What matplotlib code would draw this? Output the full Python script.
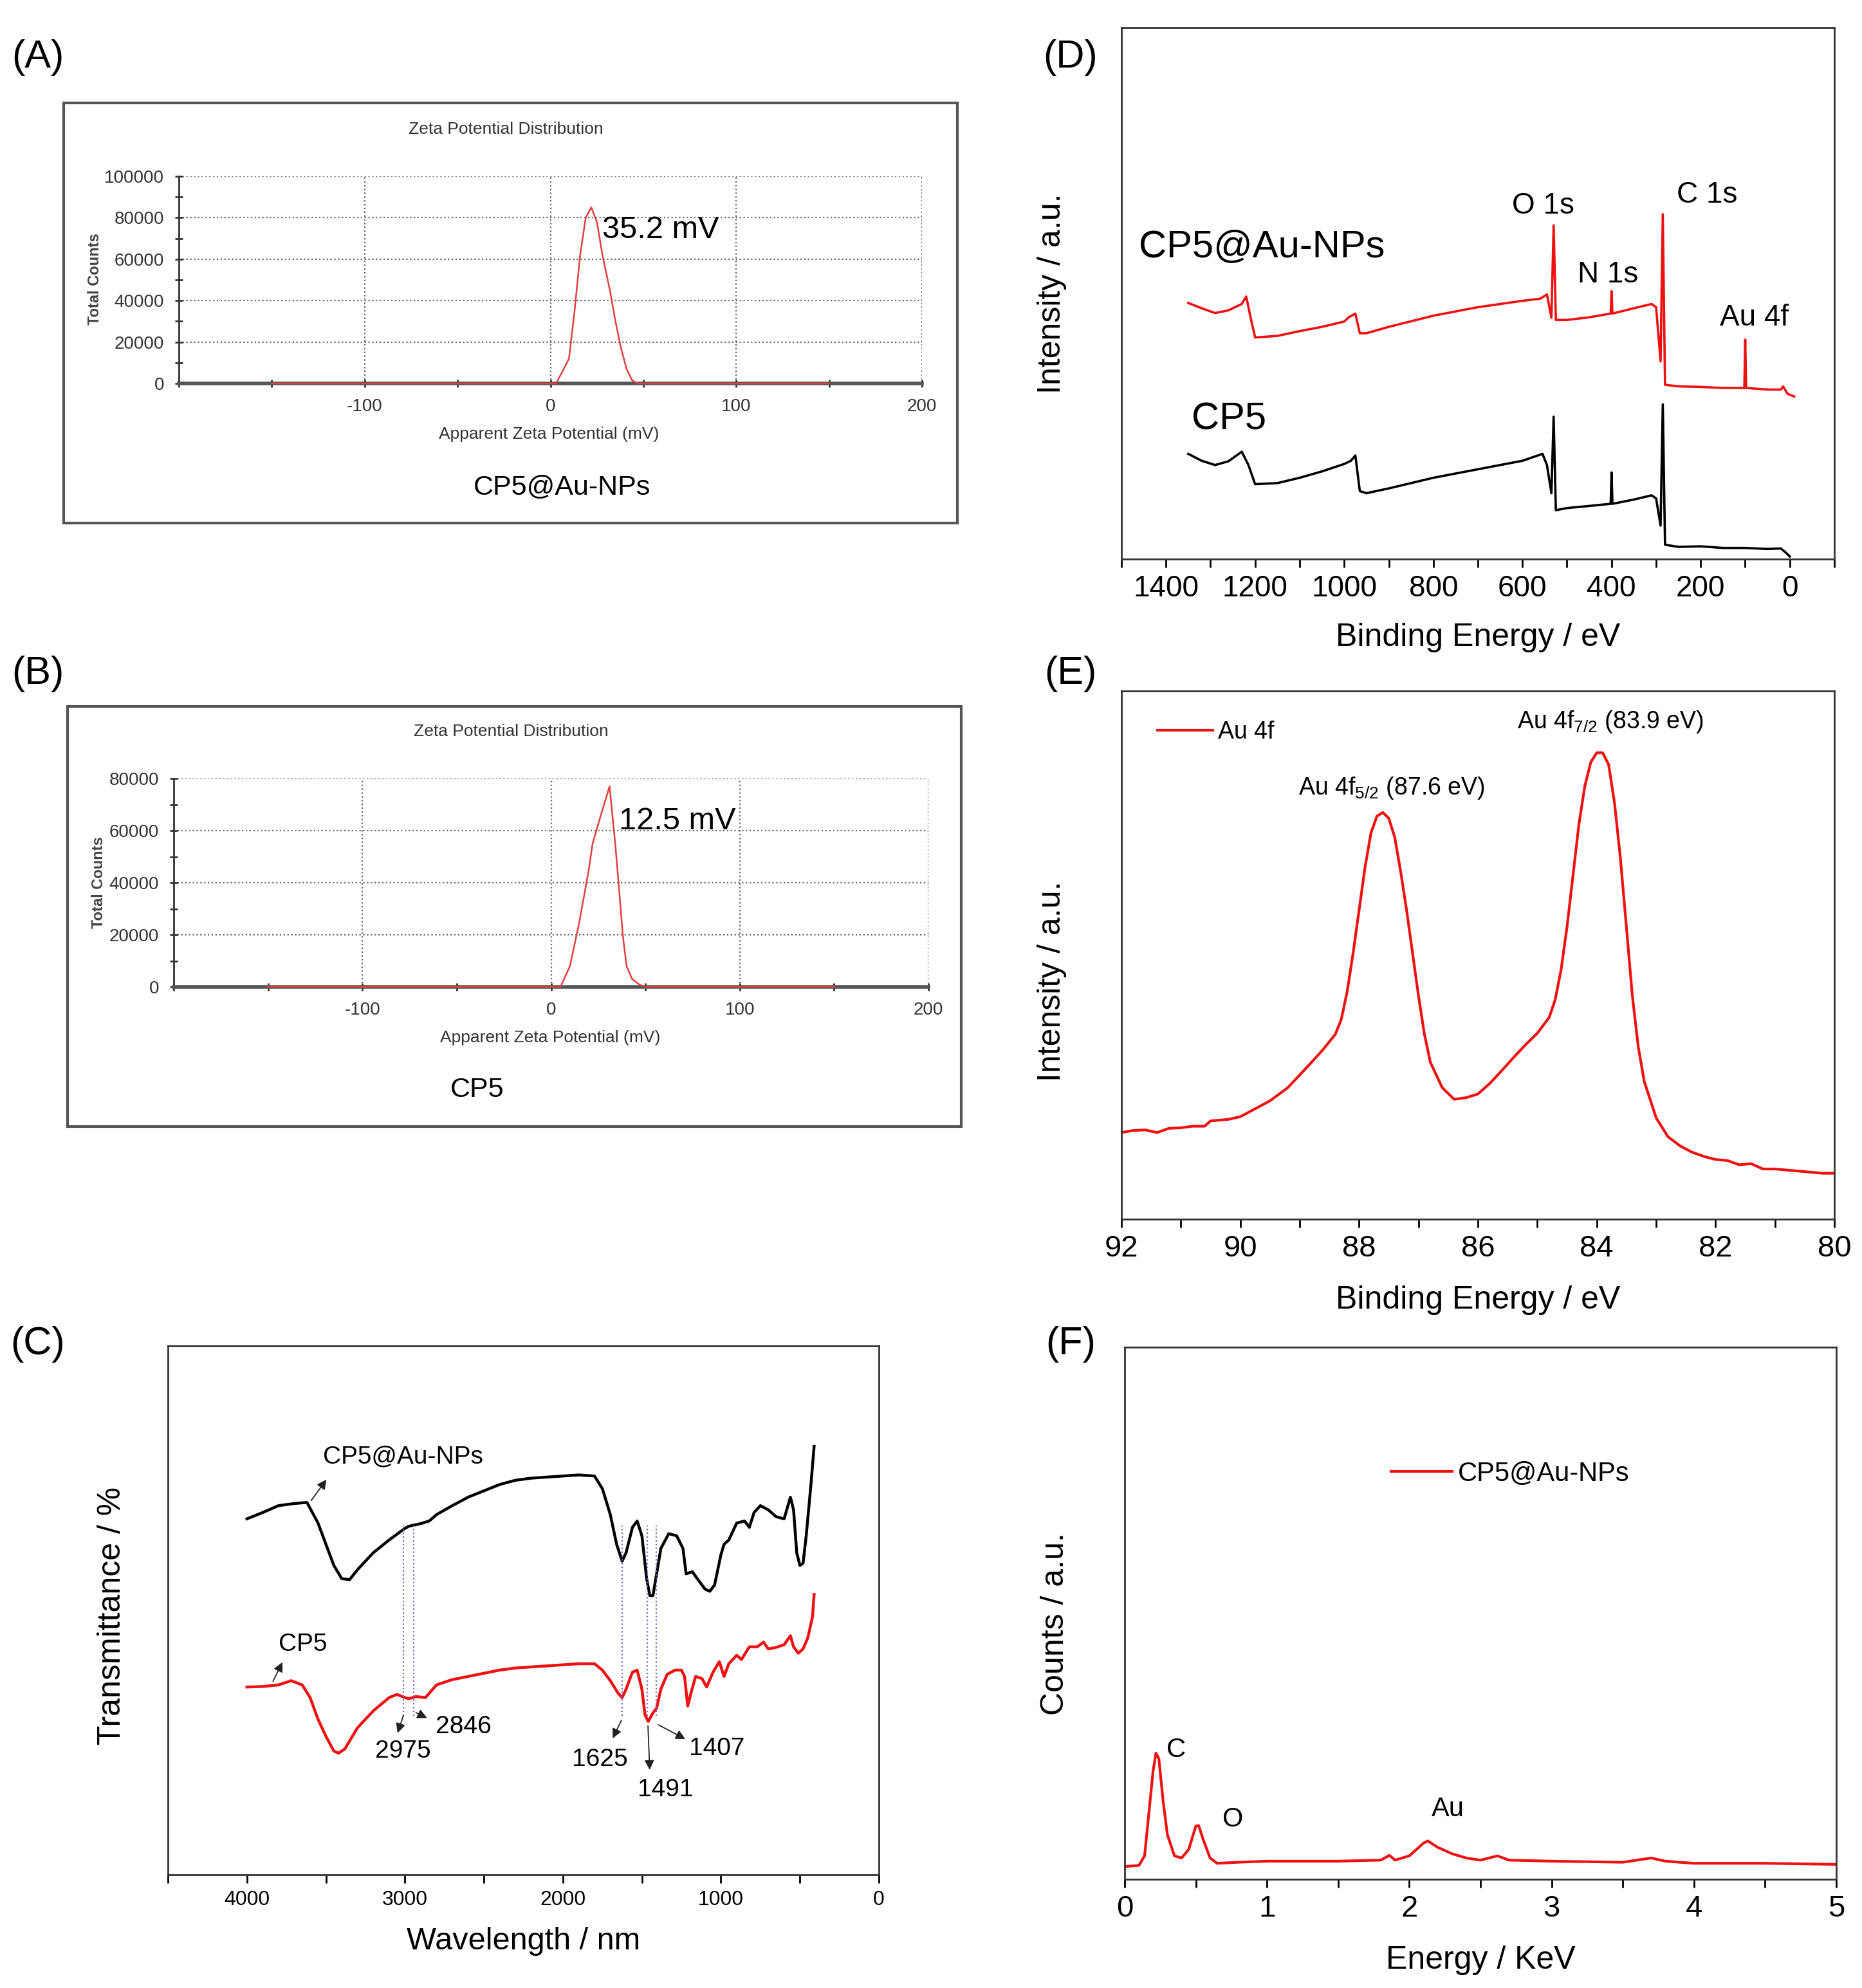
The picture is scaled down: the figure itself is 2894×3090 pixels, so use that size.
import numpy as np
import matplotlib
matplotlib.use("Agg")
import matplotlib.pyplot as plt
from matplotlib.patches import Rectangle
from matplotlib.ticker import MultipleLocator

plt.rcParams['font.family'] = ['Liberation Sans', 'DejaVu Sans']
plt.rcParams['mathtext.default'] = 'regular'
plt.rcParams['axes.unicode_minus'] = False

W, H = 2894, 3090

# ---------------- data ----------------
# (A) zeta potential, CP5@Au-NPs
zetaA_mv = [-150, 0, 3, 6, 10, 13, 16, 19, 22, 25, 28, 32, 35, 38, 41, 44, 47, 150]
zetaA_counts = [0, 0, 0, 5000, 12000, 35000, 62000, 80000, 85000, 78000, 62000,
                45000, 30000, 17000, 7000, 1500, 0, 0]
# (B) zeta potential, CP5
zetaB_mv = [-150, 0, 5, 10, 15, 20, 22, 26, 31, 34, 36, 38, 40, 43, 47, 50, 150]
zetaB_counts = [0, 0, 0, 8000, 25000, 45000, 55000, 65000, 77000, 55000, 38000,
                20000, 8000, 3000, 800, 0, 0]

# (C) FTIR
ir_wn = [4000, 3900, 3800, 3700, 3620, 3550, 3500, 3450, 3400, 3350, 3300, 3200,
         3100, 3000, 2975, 2900, 2846, 2800, 2700, 2600, 2500, 2400, 2300, 2200,
         2100, 2000, 1900, 1800, 1750, 1700, 1660, 1625, 1600, 1560, 1530, 1500,
         1470, 1450, 1430, 1407, 1380, 1330, 1280, 1240, 1220, 1180, 1150, 1100,
         1070, 1040, 1000, 980, 950, 900, 850, 820, 790, 750, 700, 650, 600, 560,
         540, 520, 500, 480, 460, 430, 410]
ir_np = [67.3, 68.5, 69.8, 70.2, 70.4, 66.5, 62.5, 58.5, 56.0, 55.8, 57.7, 60.9,
         63.3, 65.5, 65.9, 66.4, 66.9, 68.1, 69.8, 71.4, 72.6, 73.8, 74.6, 75.0,
         75.2, 75.4, 75.6, 75.4, 73.0, 68.1, 62.5, 59.3, 60.9, 65.7, 66.9, 64.1,
         56.0, 52.8, 52.8, 56.9, 61.7, 64.5, 64.1, 61.7, 56.9, 57.3, 56.0, 54.0,
         53.6, 54.8, 60.5, 62.5, 63.3, 66.5, 66.9, 65.7, 68.5, 69.8, 69.0, 67.7,
         67.3, 71.4, 69.0, 60.9, 58.5, 58.9, 64.1, 73.8, 81.0]
ir_cp5_wn = [4000, 3900, 3800, 3720, 3650, 3600, 3550, 3500, 3450, 3420, 3380, 3300,
             3200, 3100, 3050, 3000, 2975, 2930, 2870, 2800, 2700, 2600, 2500, 2400,
             2300, 2200, 2100, 2000, 1900, 1800, 1750, 1700, 1650, 1625, 1600, 1560,
             1530, 1500, 1480, 1460, 1430, 1407, 1380, 1340, 1290, 1250, 1230, 1210,
             1190, 1160, 1120, 1090, 1050, 1010, 980, 950, 900, 870, 820, 770, 730,
             700, 650, 600, 560, 540, 510, 480, 450, 420, 410]
ir_cp5 = [35.5, 35.6, 35.9, 36.7, 35.9, 33.5, 29.4, 26.2, 23.4, 23.0, 23.8, 27.8,
          31.0, 33.5, 34.1, 33.5, 33.3, 33.7, 33.5, 35.9, 36.9, 37.5, 38.1, 38.7,
          39.1, 39.3, 39.5, 39.7, 39.9, 39.9, 38.7, 36.7, 34.3, 33.5, 35.1, 38.3,
          38.7, 35.1, 30.2, 29.0, 30.6, 31.5, 35.1, 37.9, 38.7, 38.7, 37.5, 31.9,
          34.3, 37.5, 37.1, 35.5, 38.3, 40.3, 37.5, 39.9, 41.5, 40.7, 43.1, 43.1,
          44.0, 42.7, 43.0, 43.5, 45.2, 43.1, 41.9, 42.7, 44.8, 48.8, 53.0]
ir_marks = [3010, 2945, 1625, 1465, 1408]

# (D) XPS survey
xps_be = [1350, 1320, 1290, 1260, 1230, 1220, 1210, 1200, 1150, 1100, 1050, 1000,
          990, 975, 965, 950, 900, 800, 700, 600, 560, 545, 535, 530, 525, 500, 450,
          402, 400, 398, 350, 310, 300, 290, 285, 280, 250, 200, 150, 102, 100, 98,
          50, 20, 15, 5, -10]
xps_np = [48.2, 47.2, 46.3, 46.8, 48.0, 49.4, 45.4, 41.7, 42.0, 42.9, 43.7, 44.7,
          45.5, 46.2, 42.5, 42.5, 43.7, 45.8, 47.4, 48.6, 49.0, 49.8, 45.4, 62.8,
          45.0, 45.0, 45.5, 46.2, 50.4, 46.2, 47.2, 48.0, 47.4, 37.2, 64.9, 32.8,
          32.5, 32.4, 32.2, 32.2, 41.3, 32.2, 31.9, 31.9, 32.5, 31.1, 30.6]
xps_cp5_be = [1350, 1320, 1290, 1260, 1230, 1215, 1200, 1150, 1100, 1050, 1000, 985,
              975, 965, 950, 900, 800, 700, 600, 555, 545, 535, 530, 525, 500, 450,
              402, 400, 398, 350, 310, 300, 290, 285, 280, 250, 200, 150, 100, 50,
              20, 10, 0]
xps_cp5 = [19.8, 18.5, 17.7, 18.4, 20.2, 17.7, 14.1, 14.3, 15.3, 16.5, 17.9, 18.5,
           19.5, 12.8, 12.4, 13.3, 15.3, 16.9, 18.5, 19.8, 17.7, 12.4, 26.8, 9.2,
           9.6, 10.0, 10.4, 16.3, 10.4, 11.2, 12.0, 11.4, 6.3, 29.1, 2.7, 2.3, 2.4,
           2.1, 2.1, 1.9, 2.0, 1.3, 0.5]

# (E) Au 4f
au_be = [92.0, 91.8, 91.6, 91.4, 91.2, 91.0, 90.8, 90.6, 90.5, 90.2, 90.0, 89.8, 89.5,
         89.2, 89.0, 88.8, 88.6, 88.4, 88.3, 88.2, 88.1, 88.0, 87.9, 87.8, 87.7, 87.6,
         87.5, 87.4, 87.3, 87.2, 87.1, 87.0, 86.9, 86.8, 86.6, 86.4, 86.2, 86.0, 85.8,
         85.6, 85.4, 85.2, 85.0, 84.8, 84.7, 84.6, 84.5, 84.4, 84.3, 84.2, 84.1, 84.0,
         83.9, 83.8, 83.7, 83.6, 83.5, 83.4, 83.3, 83.2, 83.0, 82.8, 82.6, 82.4, 82.2,
         82.0, 81.8, 81.6, 81.4, 81.2, 81.0, 80.6, 80.2, 80.0]
au_int = [16.4, 16.8, 16.9, 16.4, 17.2, 17.3, 17.6, 17.6, 18.6, 18.9, 19.4, 20.6, 22.4,
          24.9, 27.3, 29.7, 32.2, 35.0, 37.8, 43.1, 50.4, 58.5, 66.6, 73.1, 76.3, 77.0,
          75.9, 72.3, 65.8, 58.5, 50.4, 42.3, 35.0, 29.7, 24.9, 22.7, 23.0, 23.7, 25.7,
          28.1, 30.6, 33.0, 35.2, 38.2, 41.5, 47.2, 55.3, 65.0, 74.7, 82.0, 86.5, 88.3,
          88.3, 86.1, 78.8, 68.2, 55.3, 42.3, 32.6, 26.1, 19.2, 15.6, 13.9, 12.7, 11.9,
          11.3, 11.1, 10.3, 10.5, 9.5, 9.5, 9.1, 8.7, 8.7]

# (F) EDS
eds_kev = [0.00, 0.10, 0.14, 0.17, 0.20, 0.22, 0.24, 0.27, 0.30, 0.35, 0.40, 0.45,
           0.50, 0.52, 0.55, 0.60, 0.65, 0.80, 1.00, 1.50, 1.80, 1.86, 1.90, 2.00,
           2.10, 2.13, 2.20, 2.30, 2.40, 2.50, 2.62, 2.70, 3.00, 3.50, 3.70, 3.80,
           4.00, 4.50, 5.00]
eds_counts = [2.4, 2.6, 4.4, 12.4, 20.4, 23.7, 22.7, 14.8, 8.4, 4.4, 4.0, 5.6, 10.0,
              10.1, 7.6, 4.0, 3.0, 3.2, 3.4, 3.4, 3.6, 4.5, 3.6, 4.4, 6.8, 7.2, 6.0,
              4.8, 4.0, 3.6, 4.4, 3.6, 3.4, 3.2, 4.0, 3.4, 3.0, 3.0, 2.8]


fig = plt.figure(figsize=(W / 100, H / 100), dpi=100)


def px_axes(l, t, r, b):
    return fig.add_axes([l / W, 1 - b / H, (r - l) / W, (b - t) / H])


def fig_text(x, y, s, **kw):
    fig.text(x / W, 1 - y / H, s, **kw)


def frame_box(l, t, r, b):
    fig.add_artist(Rectangle((l / W, 1 - b / H), (r - l) / W, (b - t) / H,
                             transform=fig.transFigure, fill=False,
                             ec='#555555', lw=3))


narrow = ['Liberation Sans Narrow', 'Liberation Sans']


def zeta_panel(ax, xs, ys, ymax):
    ax.plot(xs, ys, color='#e04040', lw=1.8, clip_on=False, zorder=3)
    ax.set_xlim(-200, 200)
    ax.set_ylim(0, ymax)
    ax.set_xticks([-100, 0, 100, 200])
    ax.xaxis.set_minor_locator(MultipleLocator(50))
    ax.yaxis.set_major_locator(MultipleLocator(20000))
    ax.yaxis.set_minor_locator(MultipleLocator(10000))
    ax.grid(True, which='major', ls=':', color='#666666', lw=1.6)
    for s in ['top', 'right']:
        ax.spines[s].set_visible(False)
    ax.spines['bottom'].set_color('#555555')
    ax.spines['bottom'].set_linewidth(4)
    ax.spines['left'].set_color('#333333')
    ax.spines['left'].set_linewidth(2)
    ax.tick_params(which='both', direction='inout', length=9, width=2,
                   colors='#333333', labelsize=20, pad=12)
    for lab in ax.get_xticklabels() + ax.get_yticklabels():
        lab.set_family(narrow)


# ---------------- (A) ----------------
frame_box(99, 160, 1488, 813)
axA = px_axes(278, 274, 1433, 596)
zeta_panel(axA, zetaA_mv, zetaA_counts, 100000)
axA.text(28, 74000, '35.2 mV', fontsize=35, va='center', ha='left', family=narrow)
fig_text(786, 201, 'Zeta Potential Distribution', fontsize=19, ha='center',
         va='center', color='#333333', family=narrow)
fig_text(853, 675, 'Apparent Zeta Potential (mV)', fontsize=19, ha='center',
         va='center', color='#333333', family=narrow)
fig_text(873, 758, 'CP5@Au-NPs', fontsize=31, ha='center', va='center')
fig_text(148, 434, 'Total Counts', fontsize=17, ha='center', va='center',
         rotation=90, color='#444444', weight='bold')

# ---------------- (B) ----------------
frame_box(105, 1098, 1494, 1751)
axB = px_axes(270, 1210, 1443, 1534)
zeta_panel(axB, zetaB_mv, zetaB_counts, 80000)
axB.text(36, 63500, '12.5 mV', fontsize=35, va='center', ha='left', family=narrow)
fig_text(794, 1137, 'Zeta Potential Distribution', fontsize=19, ha='center',
         va='center', color='#333333', family=narrow)
fig_text(855, 1613, 'Apparent Zeta Potential (mV)', fontsize=19, ha='center',
         va='center', color='#333333', family=narrow)
fig_text(742, 1694, 'CP5', fontsize=31, ha='center', va='center')
fig_text(154, 1372, 'Total Counts', fontsize=17, ha='center', va='center',
         rotation=90, color='#444444', weight='bold')


def spectrum_axes(ax, labelsize):
    for s in ax.spines.values():
        s.set_color('#333333')
        s.set_linewidth(2)
    ax.set_yticks([])
    ax.tick_params(which='both', direction='out', length=9, width=2,
                   labelsize=labelsize, pad=8)


# ---------------- (C) FTIR ----------------
axC = px_axes(261, 2092, 1366, 2914)
axC.plot(ir_wn, ir_np, color='black', lw=3.2)
axC.plot(ir_cp5_wn, ir_cp5, color='#ee1111', lw=3.2)
for xm in ir_marks:
    axC.plot([xm, xm], [30, 66], ls=':', color='#6a6acd', lw=1.6)
axC.set_xlim(4500, 0)
axC.set_ylim(0, 100)
axC.xaxis.set_major_locator(MultipleLocator(1000))
axC.xaxis.set_minor_locator(MultipleLocator(500))
spectrum_axes(axC, 23)
axC.set_xlabel('Wavelength / nm', fontsize=35)
axC.xaxis.set_label_coords(0.5, -0.098)
axC.set_ylabel('Transmittance / %', fontsize=36)
axC.yaxis.set_label_coords(-0.058, 0.49)

arrow = dict(arrowstyle='-|>', color='#222222', lw=1.3, mutation_scale=22)
axC.text(3520, 79, 'CP5@Au-NPs', fontsize=28, va='center', ha='left')
axC.annotate('', xy=(3490, 75), xytext=(3600, 70.5), arrowprops=arrow)
axC.text(3800, 43.5, 'CP5', fontsize=28, va='center', ha='left')
axC.annotate('', xy=(3770, 40.5), xytext=(3840, 36.3), arrowprops=arrow)
axC.text(3011, 23.4, '2975', fontsize=28, va='center', ha='center')
axC.annotate('', xy=(3050, 26.5), xytext=(3005, 30.5), arrowprops=arrow)
axC.text(2804, 28, '2846', fontsize=28, va='center', ha='left')
axC.annotate('', xy=(2850, 29.5), xytext=(2940, 30.8), arrowprops=arrow)
axC.text(1766, 21.8, '1625', fontsize=28, va='center', ha='center')
axC.annotate('', xy=(1690, 25.5), xytext=(1625, 29.5), arrowprops=arrow)
axC.text(1351, 16.1, '1491', fontsize=28, va='center', ha='center')
axC.annotate('', xy=(1450, 19.5), xytext=(1462, 28.5), arrowprops=arrow)
axC.text(1200, 23.8, '1407', fontsize=28, va='center', ha='left')
axC.annotate('', xy=(1215, 25.5), xytext=(1405, 28.5), arrowprops=arrow)

# ---------------- (D) XPS survey ----------------
axD = px_axes(1743, 43, 2851, 869)
axD.plot(xps_be, xps_np, color='#ee1111', lw=2.6)
axD.plot(xps_cp5_be, xps_cp5, color='black', lw=2.6)
axD.set_xlim(1500, -100)
axD.set_ylim(0, 100)
axD.xaxis.set_minor_locator(MultipleLocator(100))
axD.set_xticks([1400, 1200, 1000, 800, 600, 400, 200, 0])
spectrum_axes(axD, 33)
axD.set_xlabel('Binding Energy / eV', fontsize=36)
axD.xaxis.set_label_coords(0.5, -0.12)
axD.set_ylabel('Intensity / a.u.', fontsize=36)
axD.yaxis.set_label_coords(-0.077, 0.5)
axD.text(1461, 58.8, 'CP5@Au-NPs', fontsize=43, va='center', ha='left')
axD.text(1343, 26.3, 'CP5', fontsize=43, va='center', ha='left')
axD.text(554, 66.5, 'O 1s', fontsize=33, va='center', ha='center')
axD.text(186, 68.5, 'C 1s', fontsize=33, va='center', ha='center')
axD.text(408, 53.5, 'N 1s', fontsize=33, va='center', ha='center')
axD.text(79, 45.4, 'Au 4f', fontsize=33, va='center', ha='center')

# ---------------- (E) Au 4f ----------------
axE = px_axes(1743, 1074, 2851, 1895)
axE.plot(au_be, au_int, color='#ee1111', lw=3, label='Au 4f')
axE.set_xlim(92, 80)
axE.set_ylim(0, 100)
axE.xaxis.set_major_locator(MultipleLocator(2))
axE.xaxis.set_minor_locator(MultipleLocator(1))
spectrum_axes(axE, 34)
axE.set_xlabel('Binding Energy / eV', fontsize=36)
axE.xaxis.set_label_coords(0.5, -0.125)
axE.set_ylabel('Intensity / a.u.', fontsize=36)
axE.yaxis.set_label_coords(-0.077, 0.45)
axE.legend(loc='upper left', bbox_to_anchor=(0.02, 0.985), frameon=False,
           fontsize=27, handlelength=2.3, handletextpad=0.2)
axE.text(83.77, 94.2, 'Au 4f$_{7/2}$ (83.9 eV)', fontsize=27, va='center', ha='center')
axE.text(87.45, 81.6, 'Au 4f$_{5/2}$ (87.6 eV)', fontsize=27, va='center', ha='center')

# ---------------- (F) EDS ----------------
axF = px_axes(1748, 2094, 2854, 2921)
axF.plot(eds_kev, eds_counts, color='#ee1111', lw=3, label='CP5@Au-NPs')
axF.set_xlim(0, 5)
axF.set_ylim(0, 100)
axF.xaxis.set_major_locator(MultipleLocator(1))
axF.xaxis.set_minor_locator(MultipleLocator(0.5))
spectrum_axes(axF, 34)
axF.set_xlabel('Energy / KeV', fontsize=36)
axF.xaxis.set_label_coords(0.5, -0.125)
axF.set_ylabel('Counts / a.u.', fontsize=36)
axF.yaxis.set_label_coords(-0.077, 0.48)
axF.legend(loc='center left', bbox_to_anchor=(0.34, 0.762), frameon=False,
           fontsize=30, handlelength=2.3, handletextpad=0.2)
axF.text(0.36, 24.3, 'C', fontsize=30, va='center', ha='center')
axF.text(0.76, 11.2, 'O', fontsize=30, va='center', ha='center')
axF.text(2.27, 13.2, 'Au', fontsize=30, va='center', ha='center')

# ---------------- panel letters ----------------
for lab, x, y in [('(A)', 59, 89), ('(B)', 59, 1048), ('(C)', 59, 2089),
                  ('(D)', 1664, 89), ('(E)', 1664, 1048), ('(F)', 1664, 2089)]:
    fig_text(x, y, lab, fontsize=44, ha='center', va='center')

fig.savefig('out.png', dpi=100)
